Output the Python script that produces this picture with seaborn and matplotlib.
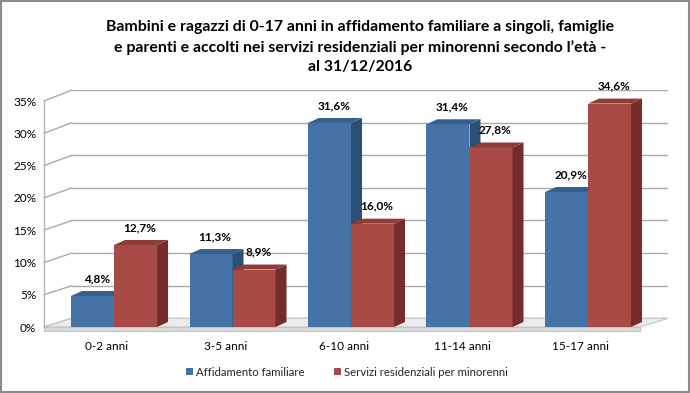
import numpy as np
import pandas as pd
import matplotlib
matplotlib.use("Agg")
import matplotlib.pyplot as plt
from matplotlib.patches import Polygon, Rectangle, Patch
from matplotlib.lines import Line2D
from matplotlib.transforms import IdentityTransform, ScaledTranslation, blended_transform_factory
import seaborn as sns

# ---------------- data ----------------
categories = ["0-2 anni", "3-5 anni", "6-10 anni", "11-14 anni", "15-17 anni"]
series_names = ["Affidamento familiare", "Servizi residenziali per minorenni"]
affidamento = [4.8, 11.3, 31.6, 31.4, 20.9]
servizi = [12.7, 8.9, 16.0, 27.8, 34.6]
y_ticks = [0, 5, 10, 15, 20, 25, 30, 35]
y_tick_labels = ["0%", "5%", "10%", "15%", "20%", "25%", "30%", "35%"]
title = ("Bambini e ragazzi di 0-17 anni in affidamento familiare a singoli, famiglie\n"
         "e parenti e accolti nei servizi residenziali per minorenni secondo l’età -\n"
         "al 31/12/2016")

front_colors = ["#4673a7", "#a84b46"]
top_colors = ["#34608f", "#8e3c37"]
side_colors = ["#2c5075", "#742d2a"]

sns.set_style("white")
plt.rcParams["font.family"] = ["Lato", "DejaVu Sans"]

W, H = 690, 393
fig = plt.figure(figsize=(6.9, 3.93), dpi=100)


def fx(px):
    return px / W


def fy(py):
    return 1 - py / H


# back wall
axb = fig.add_axes([fx(72), fy(318.3), (668 - 72) / W, (318.3 - 90) / H], zorder=1)
axb.set_xlim(0, 1)
axb.set_ylim(0, 35)
for v in y_ticks:
    axb.axhline(v, color="#a9a9a9", lw=1)
axb.axis("off")

# front plane
ax = fig.add_axes([fx(44), fy(327), (640 - 44) / W, 226 / H], zorder=2)
ax.patch.set_visible(False)
df = pd.DataFrame({
    "cat": categories * 2,
    "serie": [series_names[0]] * len(categories) + [series_names[1]] * len(categories),
    "val": affidamento + servizi,
})
sns.barplot(data=df, x="cat", y="val", hue="serie", order=categories,
            hue_order=series_names, palette=front_colors, saturation=1,
            width=0.726, linewidth=0, legend=False, ax=ax)
ax.set_xlim(-0.591, 4.439)
ax.set_ylim(0, 35)
ax.set_xlabel("")
ax.set_ylabel("")
for s in ["top", "right", "bottom"]:
    ax.spines[s].set_visible(False)
ax.spines["left"].set_color("#b5b5b5")
ax.spines["left"].set_linewidth(1)
ax.set_yticks(y_ticks)
ax.set_yticklabels(y_tick_labels, fontsize=8.5, color="#000000")
ax.tick_params(axis="y", length=0, pad=5.5)
ax.set_xticks([])
ax.grid(False)

ident = IdentityTransform()

# left wall slanted grid lines
for v in y_ticks:
    p0 = ax.transData.transform((ax.get_xlim()[0], v))
    p1 = axb.transData.transform((0, v))
    fig.add_artist(Line2D([p0[0], p1[0]], [p0[1], p1[1]], transform=ident,
                          color="#a9a9a9", lw=1, zorder=1.5))

# floor
fl = ax.transAxes.transform((0, 0))
fr = ax.transAxes.transform((1, 0))
bl = axb.transAxes.transform((0, 0))
br = axb.transAxes.transform((1, 0))
floor_top = Polygon([fl, fr, br, bl], closed=True, transform=ident,
                    facecolor="#ececec", edgecolor="#c4c4c4", lw=0.8, zorder=1.6)
fig.add_artist(floor_top)
floor_front = Polygon([fl, fr, (fr[0], fr[1] - 4), (fl[0], fl[1] - 4)], closed=True,
                      transform=ident, facecolor="#dcdcdc", edgecolor="#c4c4c4",
                      lw=0.8, zorder=1.6)
fig.add_artist(floor_front)

# 3D faces for bars
dx, dy = 11, 5
for k, cont in enumerate(ax.containers):
    for rect in cont:
        x0 = rect.get_x()
        x1 = x0 + rect.get_width()
        h = rect.get_height()
        X0, Yb = ax.transData.transform((x0, 0))
        X1, Yt = ax.transData.transform((x1, h))
        rect.set_zorder(3 + 2 * k)
        side = Polygon([(X1, Yb), (X1, Yt), (X1 + dx, Yt + dy), (X1 + dx, Yb + dy)],
                       closed=True, transform=ident, facecolor=side_colors[k],
                       edgecolor="none", zorder=3 + 2 * k, clip_on=False)
        top = Polygon([(X0, Yt), (X1, Yt), (X1 + dx, Yt + dy), (X0 + dx, Yt + dy)],
                      closed=True, transform=ident, facecolor=top_colors[k],
                      edgecolor="none", zorder=3 + 2 * k, clip_on=False)
        ax.add_artist(side)
        ax.add_artist(top)
        label = f"{h:.1f}".replace(".", ",") + "%"
        ax.annotate(label, xy=(x0 + rect.get_width() / 2, h), xytext=(3, 12.5),
                    textcoords="offset points", ha="center", va="center",
                    fontsize=8.5, fontweight="bold", color="#000000", zorder=10,
                    annotation_clip=False)

# category labels
blend = blended_transform_factory(ax.transData, ax.transAxes)
shift = ScaledTranslation(-0.07, -0.20, fig.dpi_scale_trans)
for i, c in enumerate(categories):
    ax.text(i, 0, c, transform=blend + shift, ha="center", va="center",
            fontsize=8.5, color="#000000")

# title
fig.text(fx(360), fy(47.0), title, ha="center", va="center", fontsize=11.4,
         fontweight="bold", linespacing=1.45, color="#000000")

# legend
handles = [Patch(facecolor=front_colors[0], edgecolor="none"),
           Patch(facecolor=front_colors[1], edgecolor="none")]
fig.legend(handles, series_names, loc="center", bbox_to_anchor=(fx(347), fy(372)),
           ncol=2, frameon=False, fontsize=8.2, handlelength=0.6, handleheight=0.6,
           handletextpad=0.25, columnspacing=2.6, borderaxespad=0)

# outer border
fig.add_artist(Rectangle((0.0015, 0.003), 0.997, 0.994, transform=fig.transFigure,
                         fill=False, edgecolor="#8c8c8c", lw=1.5))

fig.savefig("out.png", dpi=100)
